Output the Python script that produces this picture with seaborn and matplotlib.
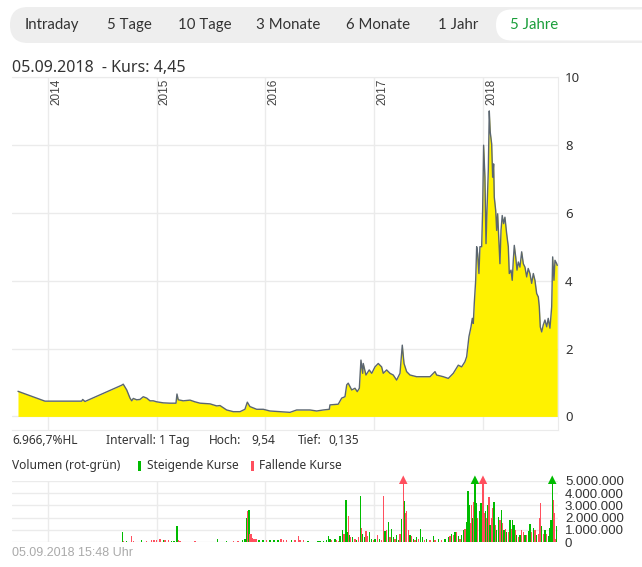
import matplotlib
matplotlib.use("Agg")
import matplotlib.pyplot as plt
from matplotlib.patches import FancyBboxPatch, Rectangle
import seaborn as sns
import pandas as pd

# closing prices (decimal year, EUR)
price_years = [
    2013.724, 2013.972, 2014.310, 2014.319, 2014.340, 2014.678, 2014.692, 2014.724,
    2014.754, 2014.770, 2014.784, 2014.816, 2014.846, 2014.876, 2014.908, 2014.938,
    2014.968, 2015.000, 2015.060, 2015.122, 2015.177, 2015.186, 2015.198, 2015.244,
    2015.306, 2015.352, 2015.398, 2015.490, 2015.551, 2015.582, 2015.643, 2015.704,
    2015.766, 2015.811, 2015.833, 2015.857, 2015.919, 2015.980, 2016.041, 2016.225,
    2016.287, 2016.409, 2016.471, 2016.531, 2016.587, 2016.593, 2016.669, 2016.701,
    2016.731, 2016.747, 2016.761, 2016.793, 2016.823, 2016.844, 2016.863, 2016.878,
    2016.894, 2016.899, 2016.924, 2016.954, 2016.977, 2017.007, 2017.037, 2017.068,
    2017.083, 2017.114, 2017.145, 2017.175, 2017.206, 2017.237, 2017.258, 2017.274,
    2017.298, 2017.329, 2017.390, 2017.451, 2017.513, 2017.559, 2017.574, 2017.635,
    2017.681, 2017.727, 2017.773, 2017.804, 2017.834, 2017.850, 2017.871, 2017.890,
    2017.902, 2017.911, 2017.920, 2017.933, 2017.942, 2017.951, 2017.963, 2017.972,
    2017.988, 2017.997, 2018.006, 2018.018, 2018.028, 2018.037, 2018.049, 2018.058,
    2018.067, 2018.080, 2018.089, 2018.098, 2018.104, 2018.117, 2018.126, 2018.135,
    2018.147, 2018.156, 2018.166, 2018.177, 2018.190, 2018.202, 2018.218, 2018.233,
    2018.242, 2018.258, 2018.269, 2018.279, 2018.288, 2018.301, 2018.313, 2018.325,
    2018.340, 2018.356, 2018.371, 2018.386, 2018.402, 2018.416, 2018.432, 2018.448,
    2018.463, 2018.478, 2018.494, 2018.509, 2018.518, 2018.527, 2018.540, 2018.554,
    2018.570, 2018.586, 2018.600, 2018.616, 2018.632, 2018.641, 2018.653, 2018.662,
    2018.678, 2018.683,
]
price_values = [
    0.74, 0.45, 0.45, 0.50, 0.44, 0.92, 0.95, 0.78,
    0.54, 0.46, 0.53, 0.49, 0.50, 0.58, 0.54, 0.46,
    0.46, 0.43, 0.40, 0.39, 0.39, 0.66, 0.49, 0.46,
    0.48, 0.43, 0.39, 0.37, 0.31, 0.32, 0.19, 0.14,
    0.14, 0.21, 0.42, 0.29, 0.21, 0.21, 0.16, 0.12,
    0.19, 0.19, 0.16, 0.19, 0.21, 0.34, 0.36, 0.54,
    0.58, 0.93, 0.98, 0.78, 0.83, 0.73, 0.83, 1.66,
    1.27, 1.56, 1.22, 1.37, 1.27, 1.46, 1.56, 1.46,
    1.27, 1.37, 1.27, 1.22, 1.07, 1.27, 2.10, 1.56,
    1.32, 1.22, 1.17, 1.17, 1.17, 1.32, 1.22, 1.17,
    1.12, 1.27, 1.51, 1.46, 1.61, 1.76, 2.35, 2.64,
    2.89, 2.74, 3.33, 4.01, 5.00, 4.80, 4.21, 5.00,
    5.00, 6.07, 7.99, 7.05, 5.09, 6.07, 7.24, 9.00,
    8.37, 8.03, 7.05, 7.44, 6.46, 6.07, 5.48, 5.97,
    5.09, 4.50, 5.48, 5.92, 5.68, 5.87, 5.38, 5.00,
    4.21, 4.31, 4.01, 4.60, 5.04, 4.70, 4.31, 4.55,
    4.40, 4.85, 4.50, 4.40, 4.11, 4.36, 4.21, 3.92,
    4.21, 4.01, 3.62, 3.52, 3.23, 2.64, 2.49, 2.69,
    2.84, 2.64, 2.89, 2.60, 3.23, 4.70, 4.01, 4.60,
    4.50, 4.45,
]

# daily volume in millions, 1 = rising day (green), 0 = falling day (red)
vol_years = [
    2013.727, 2013.979, 2014.159, 2014.257, 2014.319, 2014.349, 2014.683, 2014.692,
    2014.724, 2014.770, 2014.784, 2014.818, 2014.862, 2014.908, 2014.954, 2014.975,
    2015.000, 2015.030, 2015.060, 2015.076, 2015.106, 2015.137, 2015.159, 2015.186,
    2015.198, 2015.214, 2015.260, 2015.306, 2015.352, 2015.416, 2015.490, 2015.557,
    2015.582, 2015.643, 2015.704, 2015.747, 2015.790, 2015.811, 2015.830, 2015.839,
    2015.848, 2015.857, 2015.867, 2015.879, 2015.894, 2015.913, 2015.940, 2015.977,
    2016.011, 2016.041, 2016.078, 2016.115, 2016.143, 2016.164, 2016.195, 2016.241,
    2016.271, 2016.302, 2016.317, 2016.348, 2016.391, 2016.437, 2016.483, 2016.501,
    2016.532, 2016.563, 2016.577, 2016.593, 2016.609, 2016.639, 2016.655, 2016.669,
    2016.685, 2016.710, 2016.722, 2016.740, 2016.752, 2016.761, 2016.771, 2016.783,
    2016.802, 2016.823, 2016.839, 2016.853, 2016.872, 2016.881, 2016.894, 2016.908,
    2016.924, 2016.940, 2016.954, 2016.977, 2016.991, 2017.007, 2017.028, 2017.046,
    2017.068, 2017.083, 2017.099, 2017.114, 2017.129, 2017.145, 2017.160, 2017.175,
    2017.191, 2017.206, 2017.221, 2017.237, 2017.252, 2017.267, 2017.276, 2017.286,
    2017.298, 2017.313, 2017.329, 2017.344, 2017.359, 2017.375, 2017.390, 2017.405,
    2017.427, 2017.446, 2017.460, 2017.482, 2017.513, 2017.543, 2017.559, 2017.589,
    2017.620, 2017.651, 2017.681, 2017.697, 2017.712, 2017.727, 2017.743, 2017.758,
    2017.773, 2017.789, 2017.804, 2017.819, 2017.834, 2017.850, 2017.862, 2017.874,
    2017.887, 2017.896, 2017.906, 2017.917, 2017.926, 2017.938, 2017.951, 2017.966,
    2017.975, 2017.988, 2018.000, 2018.012, 2018.025, 2018.034, 2018.046, 2018.055,
    2018.064, 2018.076, 2018.089, 2018.101, 2018.113, 2018.126, 2018.141, 2018.156,
    2018.168, 2018.181, 2018.193, 2018.205, 2018.218, 2018.233, 2018.248, 2018.260,
    2018.273, 2018.285, 2018.297, 2018.310, 2018.325, 2018.340, 2018.356, 2018.371,
    2018.386, 2018.402, 2018.417, 2018.432, 2018.448, 2018.463, 2018.478, 2018.494,
    2018.509, 2018.518, 2018.527, 2018.540, 2018.554, 2018.570, 2018.586, 2018.600,
    2018.616, 2018.625, 2018.637, 2018.646, 2018.655, 2018.666, 2018.678,
]
vol_millions = [
    0.05, 0.05, 0.05, 0.05, 0.05, 0.05, 0.84, 0.10,
    0.10, 0.51, 0.10, 0.05, 0.15, 0.10, 0.20, 0.20,
    0.20, 0.27, 0.20, 0.15, 0.20, 0.10, 0.10, 1.32,
    0.15, 0.10, 0.05, 0.05, 0.10, 0.05, 0.05, 0.27,
    0.05, 0.10, 0.10, 0.10, 0.15, 0.30, 1.95, 2.57,
    2.62, 0.68, 0.68, 0.32, 0.27, 0.27, 0.15, 0.15,
    0.20, 0.15, 0.15, 0.15, 0.30, 0.20, 0.15, 0.15,
    0.20, 0.51, 0.20, 0.15, 0.10, 0.05, 0.10, 0.10,
    0.10, 0.15, 0.51, 0.30, 0.20, 0.30, 0.20, 0.10,
    0.50, 1.00, 0.70, 3.43, 0.80, 2.16, 0.60, 0.40,
    0.40, 0.30, 0.20, 0.40, 3.76, 1.14, 0.70, 0.40,
    0.90, 0.50, 0.80, 0.30, 0.20, 0.30, 0.60, 0.30,
    0.20, 3.78, 0.90, 1.00, 1.62, 0.40, 1.10, 0.40,
    0.30, 0.60, 0.20, 0.70, 1.86, 6.00, 3.32, 2.40,
    2.50, 1.00, 0.60, 0.50, 0.30, 0.20, 0.40, 0.30,
    1.05, 0.40, 0.20, 0.30, 0.20, 0.50, 0.20, 0.30,
    0.20, 0.30, 0.40, 0.50, 0.70, 0.60, 0.80, 0.86,
    0.50, 0.30, 0.60, 1.00, 1.05, 1.62, 4.19, 3.03,
    1.60, 3.03, 2.00, 3.27, 6.00, 3.22, 2.00, 2.50,
    3.16, 3.16, 6.00, 2.40, 2.50, 2.00, 3.00, 3.70,
    1.40, 2.00, 2.81, 3.24, 1.40, 1.00, 2.08, 1.80,
    2.62, 1.60, 1.00, 1.10, 0.80, 0.80, 1.81, 1.10,
    1.81, 1.40, 1.00, 0.60, 0.40, 0.60, 1.00, 0.80,
    0.60, 0.60, 0.90, 1.49, 0.80, 1.20, 1.00, 0.60,
    0.70, 1.95, 3.22, 1.30, 0.70, 1.00, 0.70, 0.50,
    1.20, 1.81, 6.00, 3.43, 2.40, 0.30, 1.32,
]
vol_rising = [
    1, 0, 1, 1, 1, 1, 1, 0,
    1, 0, 0, 1, 1, 0, 0, 0,
    0, 0, 1, 0, 0, 1, 1, 1,
    0, 0, 1, 1, 0, 1, 1, 1,
    0, 1, 0, 0, 1, 1, 1, 0,
    1, 0, 0, 0, 0, 0, 1, 1,
    0, 1, 1, 1, 0, 0, 0, 1,
    0, 0, 0, 0, 1, 1, 1, 1,
    1, 1, 1, 1, 0, 1, 0, 0,
    1, 1, 0, 1, 1, 0, 1, 0,
    1, 0, 1, 0, 1, 0, 1, 1,
    0, 0, 1, 1, 0, 1, 0, 1,
    0, 0, 1, 0, 1, 0, 1, 1,
    0, 1, 1, 0, 1, 0, 1, 0,
    0, 0, 1, 0, 1, 0, 1, 0,
    1, 1, 0, 1, 0, 1, 0, 1,
    0, 1, 1, 0, 1, 0, 1, 0,
    1, 0, 1, 1, 0, 1, 1, 1,
    0, 0, 1, 0, 1, 1, 0, 1,
    1, 1, 0, 0, 1, 0, 1, 0,
    1, 0, 0, 1, 0, 1, 1, 0,
    1, 0, 1, 0, 1, 0, 1, 0,
    1, 1, 0, 1, 0, 1, 0, 0,
    1, 0, 1, 1, 0, 1, 0, 1,
    0, 0, 0, 1, 0, 1, 0, 1,
    1, 1, 1, 0, 0, 0, 1,
]

tabs = ["Intraday", "5 Tage", "10 Tage", "3 Monate", "6 Monate", "1 Jahr"]
tab_centers = [51.5, 129, 204.5, 288.5, 378, 458]
year_ticks = [2014, 2015, 2016, 2017, 2018]
price_ticks = [0, 2, 4, 6, 8, 10]
vol_ticks = [0, 1, 2, 3, 4, 5]

YELLOW = "#fff200"
LINE = "#5b6670"
GREEN = "#00bb00"
RED = "#ff4f5e"
GRID = "#ebebeb"
TEXT = "#333333"

sns.set_style("white")
plt.rcParams["font.family"] = ["Noto Sans", "DejaVu Sans"]

W, H = 642, 567
fig = plt.figure(figsize=(W / 100, H / 100), dpi=100)

# background layer in pixel coordinates for the page furniture
bg = fig.add_axes([0, 0, 1, 1], zorder=0)
bg.set_xlim(0, W)
bg.set_ylim(H, 0)
bg.axis("off")

bg.add_patch(FancyBboxPatch((10, 7), 680, 36, boxstyle="round,pad=0,rounding_size=18",
                            fc="#eeeeee", ec="none"))
bg.add_patch(FancyBboxPatch((496, 9.5), 200, 31, boxstyle="round,pad=0,rounding_size=15.5",
                            fc="white", ec="none"))
for label, cx in zip(tabs, tab_centers):
    bg.text(cx, 25, label, ha="center", va="center", fontsize=10.8, color=TEXT, family="Lato")
bg.text(510, 25, "5 Jahre", ha="left", va="center", fontsize=10.8, color="#1a9e3a", family="Lato")

bg.text(12, 67.5, "05.09.2018  - Kurs: 4,45", ha="left", va="center", fontsize=11.5, color=TEXT)

stats = [(12, "6.966,7%HL"), (106, "Intervall: 1 Tag"), (209, "Hoch:"), (251, "9,54"),
         (298, "Tief:"), (328, "0,135")]
for x, s in stats:
    bg.text(x, 440.5, s, ha="left", va="center", fontsize=8.6, color=TEXT)

bg.text(12, 465.5, "Volumen (rot-grün)", ha="left", va="center", fontsize=8.6, color=TEXT)
bg.add_patch(Rectangle((138, 461), 3, 9.5, fc=GREEN, ec="none"))
bg.text(147, 465.5, "Steigende Kurse", ha="left", va="center", fontsize=8.6, color=TEXT)
bg.add_patch(Rectangle((250.5, 461), 3, 9.5, fc=RED, ec="none"))
bg.text(259, 465.5, "Fallende Kurse", ha="left", va="center", fontsize=8.6, color=TEXT)

bg.text(12, 553, "05.09.2018 15:48 Uhr", ha="left", va="center", fontsize=9,
        color="#aaaaaa", family="Liberation Sans")


def px_axes(left, top, right, bottom):
    return fig.add_axes([left / W, 1 - bottom / H, (right - left) / W, (bottom - top) / H], zorder=1)


x_min, x_max = 2013.669, 2018.690

# price panel
ax = px_axes(12, 77, 558, 430)
ax.patch.set_alpha(0)
ax.fill_between(price_years, price_values, 0, color=YELLOW, lw=0, zorder=2)
sns.lineplot(x=price_years, y=price_values, ax=ax, color=LINE, lw=1.0, zorder=3)
ax.set_xlim(x_min, x_max)
ax.set_ylim(-0.4, 10)
ax.set_xticks(year_ticks)
ax.set_xticklabels([])
ax.set_yticks(price_ticks)
ax.yaxis.tick_right()
ax.tick_params(length=0, labelsize=9.5, labelcolor=TEXT, pad=5)
ax.grid(True, color=GRID, lw=1, zorder=0)
ax.set_axisbelow(True)
for side in ["top", "bottom", "right"]:
    ax.spines[side].set_color(GRID)
ax.spines["left"].set_visible(False)
ax.set_xlabel("")
ax.set_ylabel("")
for yr in year_ticks:
    ax.text(yr + 0.02, 0.994, str(yr), transform=ax.get_xaxis_transform(), rotation=90,
            ha="left", va="top", fontsize=8.5, color="#444444", family="Liberation Sans", zorder=1)

# volume panel
axv = px_axes(12, 480.7, 558, 542.3)
axv.patch.set_alpha(0)
vol = pd.DataFrame({"year": vol_years, "vol": vol_millions, "rising": vol_rising})
vol["color"] = vol["rising"].map({1: GREEN, 0: RED})
axv.bar(vol["year"], vol["vol"], width=0.011, color=vol["color"], lw=0, zorder=2)
over = vol[vol["vol"] > 5]
sns.scatterplot(data=over, x="year", y=[5.08] * len(over), hue="rising",
                palette={1: GREEN, 0: RED}, marker="^", s=38, lw=0, legend=False,
                ax=axv, clip_on=False, zorder=4)
axv.set_xlim(x_min, x_max)
axv.set_ylim(0, 5)
axv.set_xticks(year_ticks)
axv.set_xticklabels([])
axv.set_yticks(vol_ticks)
axv.set_yticklabels(["0" if v == 0 else f"{v * 1000000:,}".replace(",", ".") for v in vol_ticks],
                    family="Liberation Sans")
axv.yaxis.tick_right()
axv.tick_params(length=0, labelsize=9.5, labelcolor=TEXT, pad=5)
axv.grid(True, color=GRID, lw=1, zorder=0)
axv.set_axisbelow(True)
for side in ["top", "bottom", "right", "left"]:
    axv.spines[side].set_visible(False)
axv.set_xlabel("")
axv.set_ylabel("")

fig.savefig("out.png", dpi=100)
